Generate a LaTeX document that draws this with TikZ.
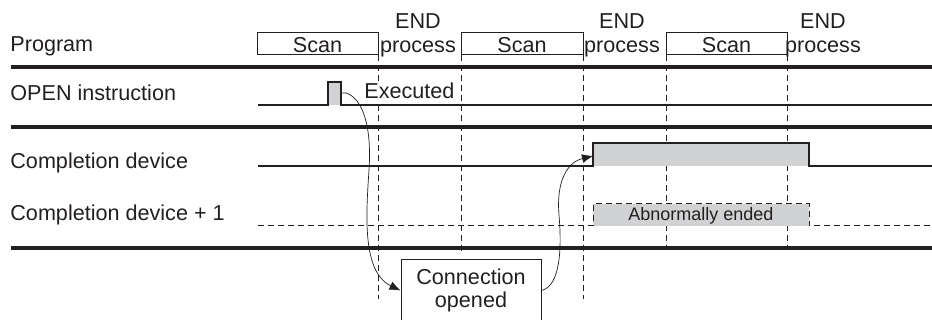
\documentclass[tikz,border=0pt]{standalone}
\usepackage{fontspec}
\setmainfont{Liberation Sans}
\usetikzlibrary{arrows.meta}
\definecolor{sig}{RGB}{208,210,212}
\definecolor{ink}{RGB}{35,31,32}
\begin{document}
\begin{tikzpicture}[x=0.5pt,y=-0.5pt,
  txt/.style={inner sep=0pt,text=ink,font=\fontsize{10.8}{11}\selectfont},
  lbl/.style={txt,anchor=base west},
  ctr/.style={txt,anchor=base},
  sepline/.style={line width=1.6pt,draw=ink},
  sigline/.style={line width=0.7pt,draw=ink},
  dashv/.style={line width=0.5pt,draw=ink,dash pattern=on 3pt off 2pt},
  scanbox/.style={draw=ink,line width=0.5pt},
  arr/.style={line width=0.35pt,draw=ink,-{Latex[length=5.5pt,width=4.5pt]}}]
\useasboundingbox (0,0) rectangle (932,320);

% separator lines
\draw[sepline] (11,67) -- (932,67);
\draw[sepline] (11,127) -- (932,127);
\draw[sepline] (11,248) -- (932,248);

% row labels
\node[lbl] (lprog) at (10,52) {Program};
\node[lbl] (lopen) at (10,101) {OPEN instruction};
\node[lbl] (lcomp) at (10,169) {Completion device};
\node[lbl] (lcomp1) at (10,221) {Completion device + 1};

% dashed verticals
\draw[dashv] (378,55) -- (378,299);
\draw[dashv] (461,55) -- (461,254);
\draw[dashv] (583,55) -- (583,299);
\draw[dashv] (666,55) -- (666,248);
\draw[dashv] (787,55) -- (787,248);

% scan boxes
\draw[scanbox] (257,33) rectangle (378,55);
\draw[scanbox] (461,33) rectangle (583,55);
\draw[scanbox] (666,33) rectangle (787,55);
\node[ctr] (scan1) at (317.5,53) {Scan};
\node[ctr] (scan2) at (522,53) {Scan};
\node[ctr] (scan3) at (726.5,53) {Scan};

% END process labels
\node[ctr] (end1) at (418,29) {END};
\node[ctr] (proc1) at (418,53) {process};
\node[ctr] (end2) at (622,29) {END};
\node[ctr] (proc2) at (622,53) {process};
\node[ctr] (end3) at (823,29) {END};
\node[ctr] (proc3) at (823,53) {process};

% OPEN instruction signal
\fill[sig] (328,82) rectangle (341,105);
\draw[sigline] (258,105) -- (328,105) -- (328,82) -- (341,82) -- (341,105) -- (932,105);
\node[lbl,fill=white,inner sep=1pt] (exec) at (362,99) {Executed};

% Completion device signal
\fill[sig] (593,143) rectangle (809,166);
\draw[sigline] (258,166) -- (593,166) -- (593,143) -- (809,143) -- (809,166) -- (932,166);
\coordinate (rise) at (593,156);

% Completion device + 1
\fill[sig] (593,204) rectangle (809,226);
\draw[dashv] (258,226) -- (593,226) -- (593,204) -- (809,204) -- (809,226) -- (932,226);
\node[ctr,font=\fontsize{9}{10}\selectfont] (abn) at (701,221) {Abnormally ended};

% Connection opened box
\node[draw=ink,line width=0.5pt,fill=white,minimum width=70pt,minimum height=30.5pt,
      inner sep=0pt,align=center,text=ink,
      font=\fontsize{10.8}{11.5}\selectfont] (conn) at (471,290.5) {Connection\\opened};

% arrows
\coordinate (pstart) at (341,93);
\draw[arr] (pstart) -- (346,93) .. controls (362,98) and (372,125) .. (369,170)
  .. controls (366,215) and (362,272) .. (conn.west);
\draw[arr] (conn.east) .. controls (560,286) and (562,250) .. (559,215)
  .. controls (556,180) and (568,162) .. (rise);
\end{tikzpicture}
\end{document}
